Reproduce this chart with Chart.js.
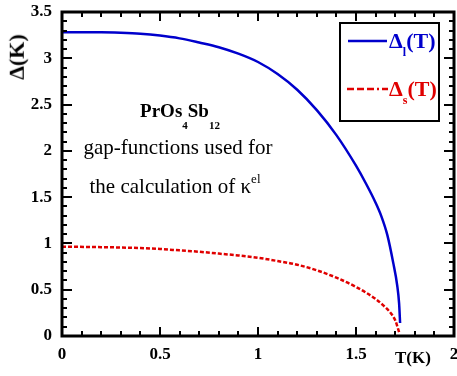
<!DOCTYPE html>
<html>
<head>
<meta charset="utf-8">
<script src="https://cdn.jsdelivr.net/npm/chart.js@4.4.0/dist/chart.umd.min.js"></script>
<style>
body { margin: 0; background: #fff; }
#wrap { position: relative; width: 457px; height: 376px; font-family: 'Liberation Serif', serif; }
#gapChart { position: absolute; left: 0; top: 0; }
.lbl { position: absolute; white-space: nowrap; line-height: 1; }
.bold { font-weight: bold; }
</style>
</head>
<body>
<div id="wrap">
	<canvas id="gapChart" width="457" height="376"></canvas>

	<div class="lbl bold" id="yTitle" style="left:-6px; top:46px; font-size:22px; transform:rotate(-90deg);">Δ(K)</div>
	<div class="lbl bold" style="left:395px; top:349px; font-size:17px;">T(K)</div>

	<div class="lbl bold" style="left:389px; top:30px; font-size:22px; color:#0000cc;">Δ<sub style="font-size:12px; vertical-align:-8px;">l</sub>(T)</div>
	<div class="lbl bold" style="left:389px; top:78px; font-size:22px; color:#e00000;">Δ<sub style="font-size:12px; vertical-align:-8px;">s</sub>(T)</div>

	<div class="lbl bold" style="left:80px; width:200px; text-align:center; top:101px; font-size:19px;">PrOs<sub style="font-size:11px; vertical-align:-12px;">4</sub>Sb<sub style="font-size:11px; vertical-align:-12px;">12</sub></div>
	<div class="lbl" style="left:58px; width:240px; text-align:center; top:137px; font-size:21px;">gap-functions used for</div>
	<div class="lbl" style="left:55px; width:240px; text-align:center; top:172px; font-size:21px;">the calculation of κ<sup style="font-size:13px; vertical-align:10px;">el</sup></div>
</div>
<script>
/* -------------------- data -------------------- */

var tLarge = [ 0, 0.1, 0.2, 0.3, 0.4, 0.5, 0.6, 0.7, 0.8, 0.9, 1.0, 1.1, 1.2, 1.3, 1.4, 1.5, 1.55, 1.6, 1.63, 1.66, 1.69, 1.71, 1.72, 1.725 ];
var deltaLarge = [ 3.28, 3.28, 3.28, 3.275, 3.265, 3.245, 3.215, 3.17, 3.12, 3.05, 2.96, 2.83, 2.66, 2.44, 2.17, 1.84, 1.65, 1.44, 1.29, 1.09, 0.79, 0.55, 0.35, 0.14 ];

var tSmall = [ 0, 0.2, 0.4, 0.5, 0.6, 0.7, 0.8, 0.9, 1.0, 1.1, 1.2, 1.3, 1.4, 1.5, 1.6, 1.65, 1.68, 1.70, 1.71, 1.72 ];
var deltaSmall = [ 0.965, 0.96, 0.95, 0.94, 0.925, 0.91, 0.89, 0.87, 0.845, 0.81, 0.77, 0.71, 0.63, 0.53, 0.40, 0.31, 0.24, 0.17, 0.11, 0.04 ];

var xTicks = [ 0, 0.5, 1, 1.5, 2 ];
var yTicks = [ 0, 0.5, 1, 1.5, 2, 2.5, 3, 3.5 ];

function toPoints(xs, ys) {
	return xs.map(function (x, i) { return { x: x, y: ys[i] }; });
}

/* -------------------- frame, ticks, legend box -------------------- */

var frameTicks = {
	id: 'frameTicks',
	afterDatasetsDraw: function (chart) {
		var ctx = chart.ctx;
		var a = chart.chartArea;
		var sx = chart.scales.x;
		var sy = chart.scales.y;
		ctx.save();
		ctx.strokeStyle = '#000';
		ctx.lineWidth = 2;
		ctx.beginPath();
		for (var i = 0; i <= 20; i++) {
			var px = Math.round(sx.getPixelForValue(i / 10));
			var len = (i % 5 === 0) ? 9 : 5;
			ctx.moveTo(px, a.bottom); ctx.lineTo(px, a.bottom - len);
			ctx.moveTo(px, a.top);    ctx.lineTo(px, a.top + len);
		}
		for (var j = 0; j <= 35; j++) {
			var py = Math.round(sy.getPixelForValue(j / 10));
			var ylen = (j % 5 === 0) ? 10 : 5;
			ctx.moveTo(a.left, py);  ctx.lineTo(a.left + ylen, py);
			ctx.moveTo(a.right, py); ctx.lineTo(a.right - ylen, py);
		}
		ctx.stroke();

		ctx.lineWidth = 3;
		ctx.strokeRect(a.left, a.top, a.right - a.left, a.bottom - a.top);

		// legend box
		ctx.lineWidth = 2;
		ctx.fillStyle = '#fff';
		ctx.fillRect(340, 23, 99, 98);
		ctx.strokeRect(340, 23, 99, 98);

		ctx.lineWidth = 2.5;
		ctx.strokeStyle = '#0000cc';
		ctx.beginPath(); ctx.moveTo(348, 41); ctx.lineTo(387, 41); ctx.stroke();

		ctx.strokeStyle = '#e00000';
		ctx.setLineDash([7, 3, 7, 3, 7, 3, 2, 3]);
		ctx.beginPath(); ctx.moveTo(347, 89); ctx.lineTo(388, 89); ctx.stroke();
		ctx.restore();
	}
};

function noPad(scale) {
	scale.paddingLeft = 0;
	scale.paddingRight = 0;
	scale.paddingTop = 0;
	scale.paddingBottom = 0;
}

/* -------------------- chart -------------------- */

var ctx1 = document.getElementById('gapChart').getContext('2d');

var gapChart = new Chart(ctx1, {
	type: 'line',
	data: {
		datasets: [{
			label: 'Δl(T)',
			data: toPoints(tLarge, deltaLarge),
			borderColor: '#0000cc',
			borderWidth: 2.5,
			pointRadius: 0,
			fill: false,
			cubicInterpolationMode: 'monotone'
		}, {
			label: 'Δs(T)',
			data: toPoints(tSmall, deltaSmall),
			borderColor: '#e00000',
			borderWidth: 2.5,
			borderDash: [4, 2],
			pointRadius: 0,
			fill: false,
			cubicInterpolationMode: 'monotone'
		}],
	},
	options: {
		responsive: false,
		animation: false,
		events: [],
		layout: {
			padding: { left: 0, right: 3, top: 12, bottom: 0 },
		},
		plugins: {
			legend: { display: false },
			tooltip: { enabled: false },
		},
		scales: {
			x: {
				type: 'linear',
				min: 0,
				max: 2,
				grid: { display: false, drawTicks: false },
				border: { display: false },
				afterBuildTicks: function (scale) {
					scale.ticks = xTicks.map(function (v) { return { value: v }; });
				},
				afterFit: function (scale) { scale.height = 40; noPad(scale); },
				ticks: {
					padding: 8,
					color: '#000',
					maxRotation: 0,
					font: { family: 'Liberation Serif', size: 17, weight: 'bold' },
					callback: function (v) { return String(v); }
				}
			},
			y: {
				type: 'linear',
				min: 0,
				max: 3.5,
				grid: { display: false, drawTicks: false },
				border: { display: false },
				afterBuildTicks: function (scale) {
					scale.ticks = yTicks.map(function (v) { return { value: v }; });
				},
				afterFit: function (scale) { scale.width = 62; noPad(scale); },
				ticks: {
					padding: 10,
					color: '#000',
					font: { family: 'Liberation Serif', size: 17, weight: 'bold' },
					callback: function (v) { return String(v); }
				}
			}
		}
	},
	plugins: [frameTicks]
});
</script>
</body>
</html>
